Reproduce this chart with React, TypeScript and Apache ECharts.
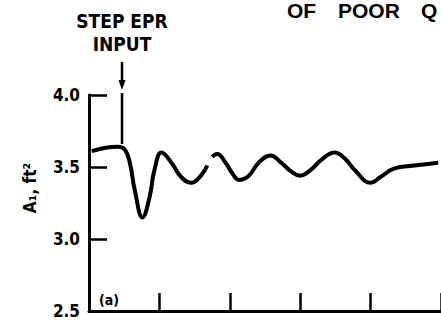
import React, { useEffect, useRef } from "react";
import * as echarts from "echarts";

// time (scaled units) and nozzle area readings
const timeValues = [
  0.04, 0.41, 0.51, 0.58, 0.65, 0.76, 0.86, 0.93, 1.03, 1.17, 1.31, 1.45, 1.59, 1.68,
  1.71,
  1.75, 1.82, 1.94, 2.03, 2.13, 2.27, 2.41, 2.58, 2.73, 2.87, 3.0, 3.15, 3.3, 3.49,
  3.63, 3.79, 4.0, 4.14, 4.34, 4.62, 4.96,
];
const areaValues: (number | null)[] = [
  3.61, 3.64, 3.62, 3.53, 3.34, 3.15, 3.29, 3.48, 3.6, 3.53, 3.43, 3.39, 3.44, 3.51,
  null,
  3.57, 3.59, 3.53, 3.46, 3.41, 3.44, 3.53, 3.58, 3.53, 3.47, 3.44, 3.48, 3.55, 3.6,
  3.56, 3.47, 3.39, 3.43, 3.49, 3.51, 3.53,
];
const yTickValues = [2.5, 3.0, 3.5, 4.0];
const titleWords = ["OF", "POOR", "Q"];
const annotationLines = ["STEP EPR", "INPUT"];
const yAxisTitle = "A\u2081, ft\u00b2";
const panelLabel = "(a)";

const narrow = "'Liberation Sans Narrow', 'DejaVu Sans Condensed', 'Liberation Sans', sans-serif";

export default function App() {
  const ref = useRef<HTMLDivElement>(null);
  useEffect(() => {
    if (!ref.current) return;
    const chart = echarts.init(ref.current, undefined, { renderer: "svg" });
    const data = timeValues.map((t, i) => [t, areaValues[i] === null ? "-" : areaValues[i]]);
    const titleX = [287, 338, 421];
    chart.setOption({
      animation: false,
      backgroundColor: "#fff",
      grid: { left: 89, top: 95, width: 355, height: 216, containLabel: false },
      xAxis: {
        type: "value",
        min: 0,
        max: 5,
        interval: 1,
        axisLine: { show: true, lineStyle: { color: "#000", width: 3 } },
        axisTick: { show: true, inside: true, length: 18, lineStyle: { color: "#000", width: 2.5 } },
        axisLabel: { show: false },
        splitLine: { show: false },
      },
      yAxis: {
        type: "value",
        min: 2.5,
        max: 4.0,
        interval: 0.5,
        axisLine: { show: true, lineStyle: { color: "#000", width: 3 } },
        axisTick: { show: true, inside: true, length: 18, lineStyle: { color: "#000", width: 2.5 } },
        axisLabel: {
          show: true,
          margin: 9,
          color: "#000",
          fontFamily: narrow,
          fontWeight: "bold",
          fontSize: 17,
          formatter: (v: number) => {
            const match = yTickValues.find((t) => Math.abs(t - v) < 1e-6);
            return match !== undefined ? match.toFixed(1) : "";
          },
        },
        splitLine: { show: false },
      },
      series: [
        {
          type: "line",
          data,
          smooth: 0.45,
          showSymbol: false,
          connectNulls: false,
          lineStyle: { color: "#000", width: 4 },
          clip: false,
        },
      ],
      graphic: [
        ...titleWords.map((w, i) => ({
          type: "text",
          x: titleX[i],
          y: 0,
          style: {
            text: w,
            fill: "#000",
            verticalAlign: "top",
            font: "bold 21px 'Liberation Sans', Arial, sans-serif",
          },
        })),
        ...annotationLines.map((s, i) => ({
          type: "text",
          x: 122,
          y: i === 0 ? 11 : 34,
          style: {
            text: s,
            fill: "#000",
            align: "center",
            verticalAlign: "top",
            font: `bold 19px ${narrow}`,
          },
        })),
        {
          type: "line",
          shape: { x1: 122, y1: 62, x2: 122, y2: 86 },
          style: { stroke: "#000", lineWidth: 2.5 },
        },
        {
          type: "polygon",
          shape: { points: [[118.5, 80], [125.5, 80], [122, 90]] },
          style: { fill: "#000" },
        },
        {
          type: "line",
          shape: { x1: 122, y1: 93, x2: 122, y2: 144 },
          style: { stroke: "#000", lineWidth: 2.5 },
        },
        {
          type: "text",
          x: 30,
          y: 188,
          rotation: Math.PI / 2,
          style: {
            text: yAxisTitle,
            fill: "#000",
            align: "center",
            verticalAlign: "middle",
            font: `bold 17px ${narrow}`,
          },
        },
        {
          type: "text",
          x: 99,
          y: 293,
          style: {
            text: panelLabel,
            fill: "#000",
            verticalAlign: "top",
            font: `bold 14px ${narrow}`,
          },
        },
      ],
    });
    return () => chart.dispose();
  }, []);
  return (
    <div
      ref={ref}
      style={{ position: "fixed", left: 0, top: 0, width: 441, height: 323, background: "#fff" }}
    />
  );
}
